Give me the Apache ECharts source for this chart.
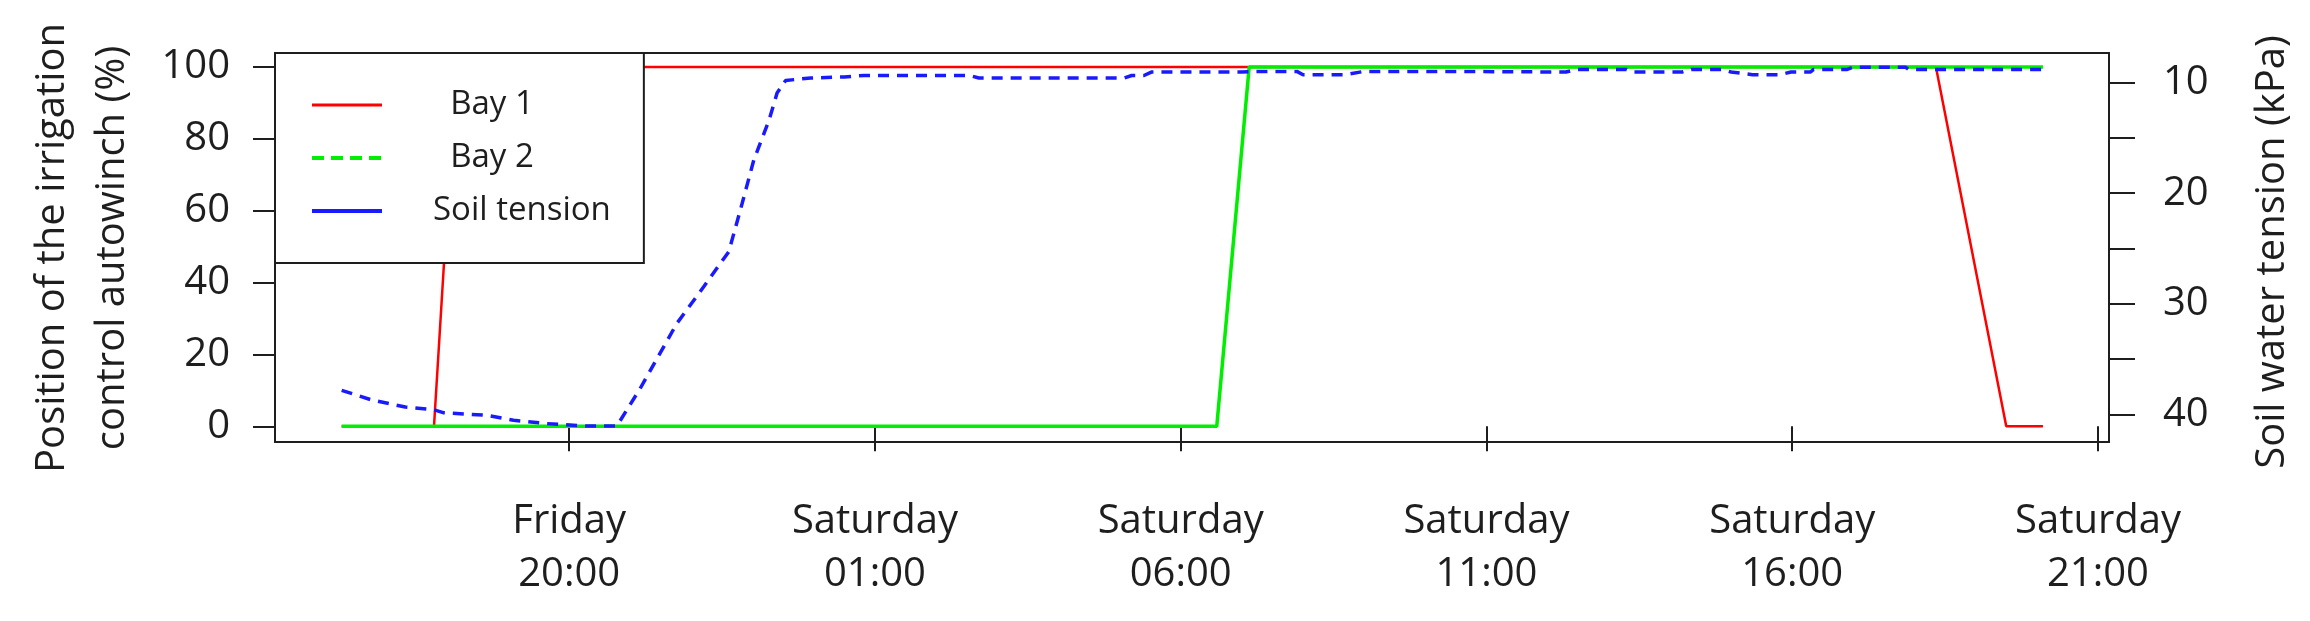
<!DOCTYPE html>
<html>
<head>
<meta charset="utf-8">
<script src="https://cdn.jsdelivr.net/npm/echarts@6/dist/echarts.min.js"></script>
<style>
  html, body { margin: 0; padding: 0; background: #fff; }
  #chart { width: 2310px; height: 621px; }
</style>
</head>
<body>
<div id="chart"></div>
<script>
// Hours counted from Friday 00:00
var tickHours = [20, 25, 30, 35, 40, 45];
var tickLabels = ['Friday\n20:00', 'Saturday\n01:00', 'Saturday\n06:00', 'Saturday\n11:00', 'Saturday\n16:00', 'Saturday\n21:00'];

var leftTicks = [0, 20, 40, 60, 80, 100];
var rightTicks = [10, 15, 20, 25, 30, 35, 40];
var rightLabels = [10, 20, 30, 40];

// Bay 1 winch position (%)
var bay1Time = [16.28, 17.79, 18.15, 42.35, 43.5, 44.1];
var bay1Pos  = [0, 0, 100, 100, 0, 0];

// Bay 2 winch position (%)
var bay2Time = [16.28, 30.59, 31.12, 44.1];
var bay2Pos  = [0, 0, 100, 100];

// Soil water tension (kPa)
var tensionTime = [16.28, 16.75, 17.32, 17.78, 17.94, 18.65, 19.09, 19.64, 20.29, 20.78,
  21.16, 21.76, 22.2, 22.61, 22.8, 23.02, 23.27, 23.4, 23.54, 23.95, 24.5, 24.82, 26.55,
  26.7, 29.08, 29.2, 29.4, 29.52, 31.0, 31.2, 31.9, 32.0, 32.7, 33.0, 34.4, 36.3, 36.47,
  37.29, 37.4, 38.2, 38.35, 38.86, 39.0, 39.35, 39.8, 39.98, 40.3, 40.35, 40.9, 41.0,
  41.85, 41.9, 44.1];
var tensionKpa = [37.81, 38.65, 39.32, 39.56, 39.83, 40.07, 40.52, 40.82, 41.04, 41.04,
  37.66, 31.78, 28.46, 25.29, 21.52, 17.0, 13.38, 10.96, 9.82, 9.6, 9.5, 9.37, 9.37,
  9.6, 9.6, 9.37, 9.37, 9.06, 9.06, 9.0, 9.0, 9.3, 9.3, 9.0, 9.0, 9.06, 8.82,
  8.82, 9.06, 9.06, 8.82, 8.82, 9.06, 9.3, 9.3, 9.06, 9.06, 8.82, 8.82, 8.62,
  8.62, 8.82, 8.82];

function zip(a, b) { return a.map(function (v, i) { return [v, b[i]]; }); }

var FONT = 'Open Sans';
var INK = '#1e1e1e';

var chart = echarts.init(document.getElementById('chart'), null, { renderer: 'canvas' });
chart.setOption({
  animation: false,
  backgroundColor: '#fff',
  textStyle: { fontFamily: FONT, color: INK },
  grid: {
    left: 275, right: 201, top: 53, bottom: 179,
    show: true, borderColor: INK, borderWidth: 2, backgroundColor: 'transparent',
    containLabel: false, outerBoundsMode: 'none'
  },
  legend: {
    orient: 'vertical',
    left: 275, top: 53,
    backgroundColor: '#fff',
    borderColor: INK, borderWidth: 2, borderRadius: 0,
    padding: [32, 33, 32, 35],
    itemWidth: 70, itemHeight: 14, itemGap: 13,
    itemStyle: { opacity: 0 },
    textStyle: { fontFamily: FONT, fontSize: 33, color: INK, lineHeight: 40, padding: [0, 0, 0, 46] },
    formatter: function (name) { return name.indexOf('Bay') === 0 ? '  ' + name : name; },
    data: [
      { name: 'Bay 1', lineStyle: { color: '#ff0000', width: 3, type: 'solid' } },
      { name: 'Bay 2', lineStyle: { color: '#00ee00', width: 4, type: [12, 7] } },
      { name: 'Soil tension', lineStyle: { color: '#1a1aff', width: 4, type: 'solid' } }
    ],
    selectedMode: false
  },
  xAxis: {
    type: 'value', min: 15.19, max: 45.18,
    splitLine: { show: false },
    axisLine: { show: false },
    axisTick: { show: true, customValues: tickHours, length: 25, inside: false, lineStyle: { color: INK, width: 2 } },
    axisLabel: {
      customValues: tickHours, margin: 53, fontSize: 40, lineHeight: 53, color: INK, fontFamily: FONT,
      formatter: function (v) { var i = tickHours.indexOf(v); return i >= 0 ? tickLabels[i] : ''; }
    }
  },
  yAxis: [
    {
      type: 'value', min: -4.38, max: 103.9, position: 'left',
      splitLine: { show: false },
      axisLine: { show: false },
      axisTick: { show: true, customValues: leftTicks, length: 22, lineStyle: { color: INK, width: 2 } },
      axisLabel: { customValues: leftTicks, margin: 45, fontSize: 40, color: INK, fontFamily: FONT }
    },
    {
      type: 'value', min: 7.34, max: 42.48, position: 'right', inverse: true,
      splitLine: { show: false },
      axisLine: { show: false },
      axisTick: { show: true, customValues: rightTicks, length: 26, lineStyle: { color: INK, width: 2 } },
      axisLabel: { customValues: rightLabels, margin: 54, fontSize: 40, color: INK, fontFamily: FONT }
    }
  ],
  graphic: [
    {
      type: 'text', x: 83, y: 248, rotation: Math.PI / 2,
      style: {
        text: 'Position of the irrigation\ncontrol autowinch (%)',
        font: '40px "Open Sans"', fill: INK, align: 'center', verticalAlign: 'middle', lineHeight: 60
      }
    },
    {
      type: 'text', x: 2273, y: 252, rotation: Math.PI / 2,
      style: {
        text: 'Soil water tension (kPa)',
        font: '40px "Open Sans"', fill: INK, align: 'center', verticalAlign: 'middle'
      }
    }
  ],
  series: [
    {
      name: 'Bay 1', type: 'line', yAxisIndex: 0, data: zip(bay1Time, bay1Pos),
      symbol: 'none', showSymbol: false, z: 2,
      lineStyle: { color: '#ff0000', width: 2.5 }, itemStyle: { color: '#ff0000' }
    },
    {
      name: 'Bay 2', type: 'line', yAxisIndex: 0, data: zip(bay2Time, bay2Pos),
      symbol: 'none', showSymbol: false, z: 3,
      lineStyle: { color: '#00ee00', width: 3.5 }, itemStyle: { color: '#00ee00' }
    },
    {
      name: 'Soil tension', type: 'line', yAxisIndex: 1, data: zip(tensionTime, tensionKpa),
      symbol: 'none', showSymbol: false, z: 3,
      lineStyle: { color: '#1a1aff', width: 3.5, type: [11, 8] }, itemStyle: { color: '#1a1aff' }
    }
  ]
});
</script>
</body>
</html>
